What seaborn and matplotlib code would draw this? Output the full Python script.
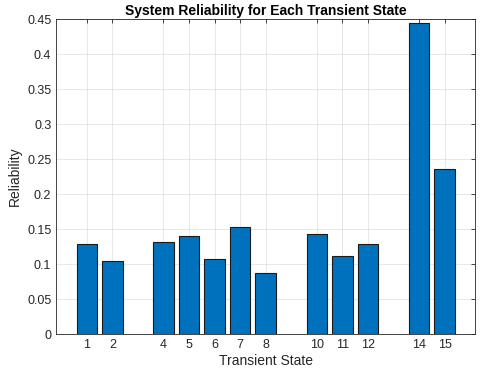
import matplotlib
matplotlib.use("Agg")
import matplotlib.pyplot as plt
import numpy as np
import pandas as pd
import seaborn as sns
from matplotlib.ticker import FuncFormatter

states = [1, 2, 4, 5, 6, 7, 8, 10, 11, 12, 14, 15]
reliability = [0.129, 0.105, 0.132, 0.140, 0.107, 0.153, 0.088,
               0.143, 0.112, 0.129, 0.445, 0.236]
y_ticks = [0, 0.05, 0.1, 0.15, 0.2, 0.25, 0.3, 0.35, 0.4, 0.45]

sns.set_style("white")
plt.rcParams["font.family"] = ["Liberation Sans", "DejaVu Sans"]

df = pd.DataFrame({"state": states, "rel": reliability})

fig = plt.figure(figsize=(4.8, 3.75), dpi=100)
ax = fig.add_axes([0.117, 0.109, 0.873, 0.84])

sns.barplot(data=df, x="state", y="rel", native_scale=True, width=0.8,
            color="#0072BD", saturation=1, edgecolor="#1a1a1a", linewidth=0.8,
            ax=ax, zorder=3)

ax.set_xlim(-0.2, 16.2)
ax.set_ylim(0, 0.45)
ax.set_xticks(states)
ax.set_xticklabels([str(s) for s in states])
ax.set_yticks(y_ticks)
ax.yaxis.set_major_formatter(FuncFormatter(lambda v, p: f"{v:g}"))

ax.grid(True, color="#262626", alpha=0.12, linewidth=0.6, zorder=0)
ax.set_axisbelow(True)
for s in ax.spines.values():
    s.set_color("#262626")
    s.set_linewidth(0.6)
ax.tick_params(direction="in", length=3, width=0.6, colors="#262626",
               labelsize=9, top=True, right=True, labelcolor="#262626")

ax.set_xlabel("Transient State", fontsize=10, color="#262626", labelpad=2)
ax.set_ylabel("Reliability", fontsize=10, color="#262626", labelpad=4)
ax.set_title("System Reliability for Each Transient State", fontsize=10,
             fontweight="bold", color="#000000", pad=3)

fig.savefig("out.png", dpi=100)
